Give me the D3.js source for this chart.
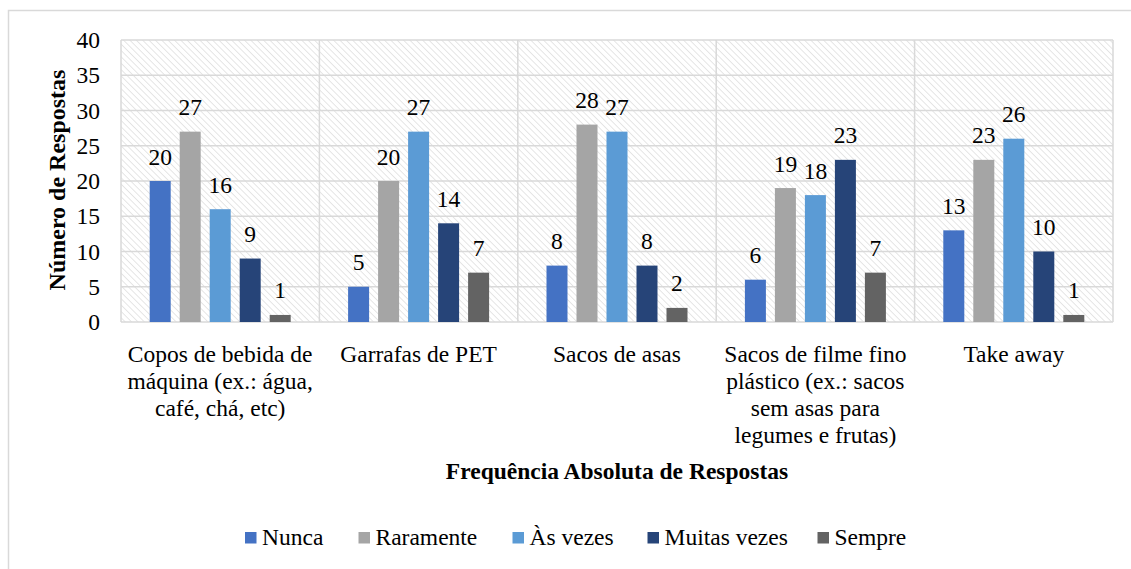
<!DOCTYPE html>
<html>
<head>
<meta charset="utf-8">
<script src="https://cdn.jsdelivr.net/npm/d3@7"></script>
<style>
  body { margin: 0; background: #fff; }
</style>
</head>
<body>
<svg id="chart" width="1131" height="569"></svg>
<script>
// dados
var categorias = [
  ["Copos de bebida de", "máquina (ex.: água,", "café, chá, etc)"],
  ["Garrafas de PET"],
  ["Sacos de asas"],
  ["Sacos de filme fino", "plástico (ex.: sacos", "sem asas para", "legumes e frutas)"],
  ["Take away"]
];
var series = ["Nunca", "Raramente", "Às vezes", "Muitas vezes", "Sempre"];
var cores = ["#4472c4", "#a5a5a5", "#5b9bd5", "#264478", "#636363"];
var nunca = [20, 5, 8, 6, 13];
var raramente = [27, 20, 28, 19, 23];
var asVezes = [16, 27, 27, 18, 26];
var muitasVezes = [9, 14, 8, 23, 10];
var sempre = [1, 7, 2, 7, 1];
var yTicks = [0, 5, 10, 15, 20, 25, 30, 35, 40];

var valores = [nunca, raramente, asVezes, muitasVezes, sempre];
var FONTE = "'Liberation Serif'";
var TAM = "23.5px";

var svg = d3.select("#chart");
var pLeft = 121, pRight = 1113, pTop = 40, pBottom = 322;

// moldura exterior
svg.append("rect").attr("x", 8.5).attr("y", 10.5).attr("width", 1130).attr("height", 570)
  .attr("fill", "none").attr("stroke", "#d9d9d9").attr("stroke-width", 1.5);

// padrão tracejado
var pat = svg.append("defs").append("pattern")
  .attr("id", "hatch").attr("patternUnits", "userSpaceOnUse")
  .attr("width", 4.5).attr("height", 4.5)
  .attr("patternTransform", "rotate(-45)");
pat.append("rect").attr("width", 4.5).attr("height", 4.5).attr("fill", "#fff");
pat.append("line").attr("x1", 0).attr("y1", 0).attr("x2", 0).attr("y2", 4.5)
  .attr("stroke", "#d9d9d9").attr("stroke-width", 1.3);

var x0 = d3.scaleBand().domain(d3.range(categorias.length)).range([pLeft, pRight]);
var y = d3.scaleLinear().domain([0, 40]).range([pBottom, pTop]);
var bw = x0.bandwidth();
var x1 = d3.scaleBand().domain(series)
  .range([bw / 2 - 75, bw / 2 + 75]).paddingInner(0.3).paddingOuter(0.15);

svg.append("rect").attr("x", pLeft).attr("y", pTop)
  .attr("width", pRight - pLeft).attr("height", pBottom - pTop)
  .attr("fill", "url(#hatch)");

// grelha
svg.append("g").selectAll("line").data(yTicks).enter().append("line")
  .attr("x1", pLeft).attr("x2", pRight)
  .attr("y1", function(d) { return y(d); }).attr("y2", function(d) { return y(d); })
  .attr("stroke", "#d9d9d9").attr("stroke-width", 1.5);
svg.append("g").selectAll("line").data(d3.range(categorias.length + 1)).enter().append("line")
  .attr("x1", function(d) { return pLeft + d * bw; }).attr("x2", function(d) { return pLeft + d * bw; })
  .attr("y1", pTop).attr("y2", pBottom)
  .attr("stroke", "#d9d9d9").attr("stroke-width", 1.5);

// eixo y
var yAxis = svg.append("g").attr("transform", "translate(" + pLeft + ",0)")
  .call(d3.axisLeft(y).tickValues(yTicks).tickSize(0).tickPadding(21));
yAxis.select(".domain").remove();
yAxis.selectAll("text").style("font-family", FONTE).style("font-size", TAM).attr("fill", "#000");

// barras
var grupos = svg.append("g").selectAll("g").data(categorias).enter().append("g")
  .attr("transform", function(d, i) { return "translate(" + x0(i) + ",0)"; });

grupos.each(function(c, ci) {
  var g = d3.select(this);
  series.forEach(function(s, si) {
    var v = valores[si][ci];
    g.append("rect")
      .attr("x", x1(s)).attr("width", x1.bandwidth())
      .attr("y", y(v)).attr("height", y(0) - y(v))
      .attr("fill", cores[si]);
    g.append("text")
      .attr("x", x1(s) + x1.bandwidth() / 2).attr("y", y(v) - 16.5)
      .attr("text-anchor", "middle")
      .style("font-family", FONTE).style("font-size", TAM)
      .text(v);
  });
});

// rótulos das categorias
var catLabels = svg.append("g").selectAll("text").data(categorias).enter().append("text")
  .attr("text-anchor", "middle")
  .style("font-family", FONTE).style("font-size", TAM)
  .attr("x", function(d, i) { return x0(i) + bw / 2; });
catLabels.selectAll("tspan").data(function(d) { return d; }).enter().append("tspan")
  .attr("x", function() { return d3.select(this.parentNode).attr("x"); })
  .attr("y", function(d, i) { return 362 + i * 27; })
  .text(function(d) { return d; });

// títulos dos eixos
svg.append("text").attr("x", 617).attr("y", 479).attr("text-anchor", "middle")
  .style("font-family", FONTE).style("font-size", TAM).style("font-weight", "bold")
  .text("Frequência Absoluta de Respostas");
svg.append("text").attr("transform", "translate(65,180) rotate(-90)").attr("text-anchor", "middle")
  .style("font-family", FONTE).style("font-size", "24px").style("font-weight", "bold")
  .text("Número de Respostas");

// legenda
var legX = [245, 358.5, 512.5, 647.5, 817.5];
var leg = svg.append("g").selectAll("g").data(series).enter().append("g")
  .attr("transform", function(d, i) { return "translate(" + legX[i] + ",532)"; });
leg.append("rect").attr("width", 11.5).attr("height", 11.5)
  .attr("fill", function(d, i) { return cores[i]; });
leg.append("text").attr("x", 17).attr("y", 13)
  .style("font-family", FONTE).style("font-size", TAM)
  .text(function(d) { return d; });
</script>
</body>
</html>
